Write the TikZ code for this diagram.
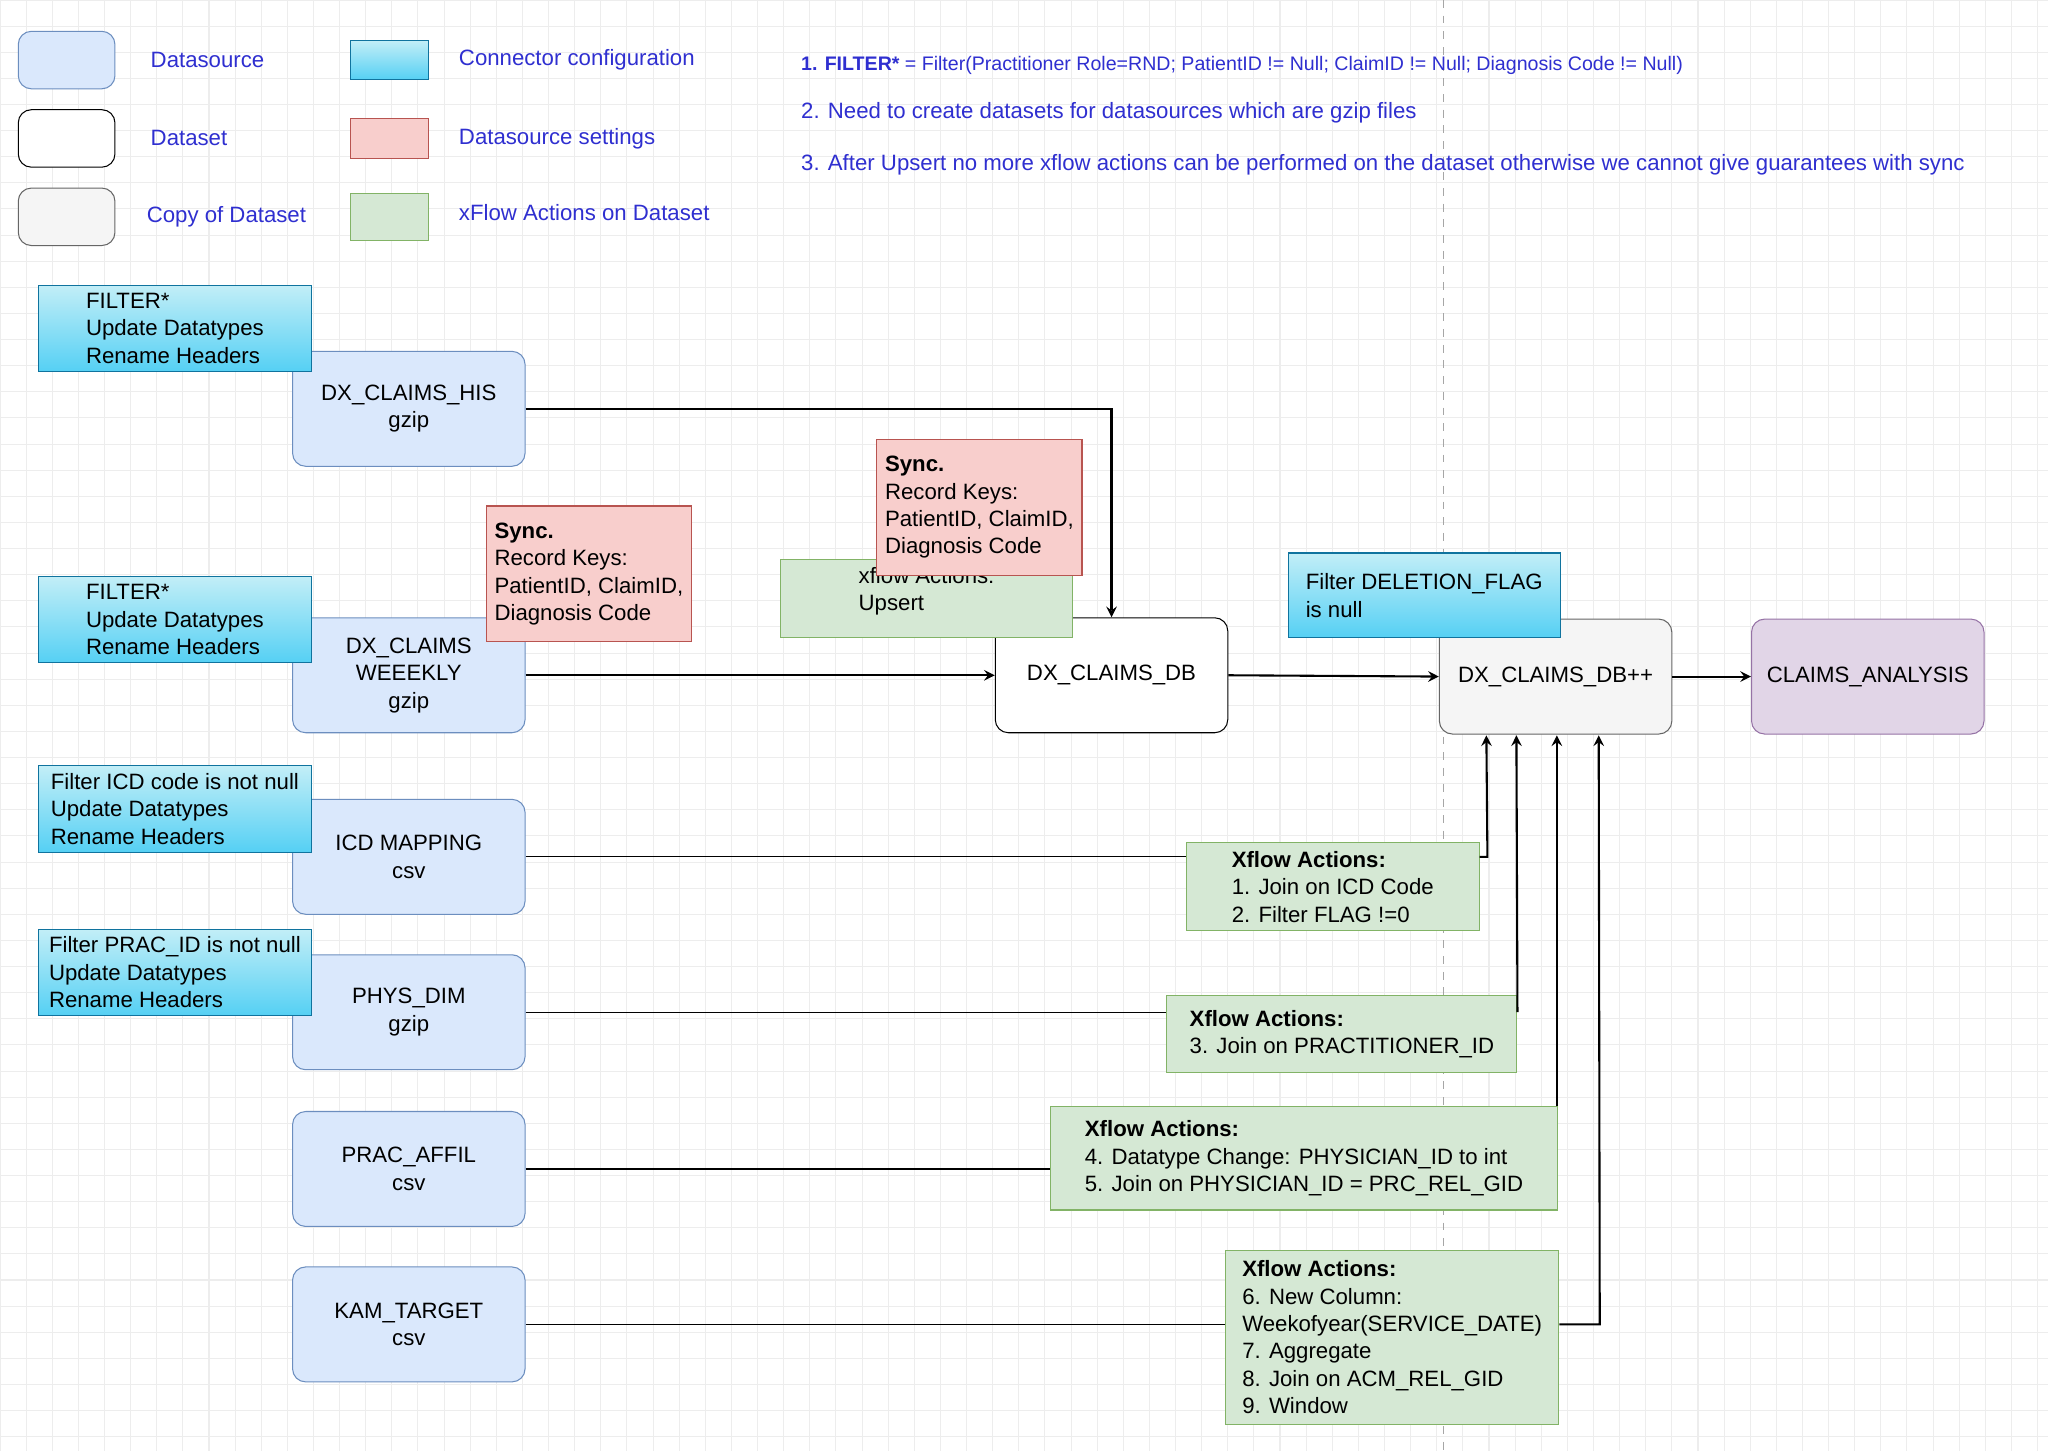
\documentclass[tikz,border=0pt]{standalone}
\usepackage{fontspec}
\setmainfont{Liberation Sans}
\usepackage{tikz}
\usetikzlibrary{positioning}
\definecolor{dsfill}{HTML}{DAE8FC}\definecolor{dsline}{HTML}{6C8EBF}
\definecolor{cpfill}{HTML}{F5F5F5}\definecolor{cpline}{HTML}{666666}
\definecolor{rdfill}{HTML}{F8CECC}\definecolor{rdline}{HTML}{B85450}
\definecolor{grfill}{HTML}{D5E8D4}\definecolor{grline}{HTML}{82B366}
\definecolor{pufill}{HTML}{E1D5E7}\definecolor{puline}{HTML}{9673A6}
\definecolor{cytop}{HTML}{C2EEF7}\definecolor{cybot}{HTML}{55D0F4}\definecolor{cyline}{HTML}{10739E}
\definecolor{note}{HTML}{2F2FD0}
\tikzset{
  base/.style={font=\fontsize{8.5}{10.5}\selectfont, inner sep=1.5pt},
  src/.style={base, draw=dsline, fill=dsfill, rounded corners=5pt, align=center, minimum width=89pt, minimum height=44pt},
  dset/.style={base, draw=black, fill=white, rounded corners=5pt, align=center, minimum width=89pt, minimum height=44pt},
  cpy/.style={base, draw=cpline, fill=cpfill, rounded corners=5pt, align=center, minimum width=89pt, minimum height=44pt},
  ana/.style={base, draw=puline, fill=pufill, rounded corners=5pt, align=center, minimum width=89pt, minimum height=44pt},
  conn/.style={base, draw=cyline, top color=cytop, bottom color=cybot, align=left, anchor=north west},
  sync/.style={base, draw=rdline, fill=rdfill, align=left, anchor=north west},
  act/.style={base, draw=grline, fill=grfill, align=left, anchor=north west},
  lbl/.style={base, anchor=west, text=note},
  arr/.style={-stealth, thick}
}
\begin{document}
\begin{tikzpicture}[x=0.5pt,y=-0.5pt]
\useasboundingbox (0,0) rectangle (1568,1111);
\fill[white] (0,0) rectangle (1568,1111);
\draw[black!7, step=10pt] (0,0) grid (1568,1111);
\draw[black!35, dashed] (1105,0) -- (1105,1111);

% legend
\node[src, minimum width=37pt, minimum height=22pt] (lgds) at (51,46) {};
\node[dset, minimum width=37pt, minimum height=22pt] (lgset) at (51,106) {};
\node[cpy, minimum width=37pt, minimum height=22pt] (lgcp) at (51,166) {};
\node[base, draw=cyline, top color=cytop, bottom color=cybot, minimum width=30pt, minimum height=15pt] (lgconn) at (298,46) {};
\node[base, draw=rdline, fill=rdfill, minimum width=30pt, minimum height=15pt] (lgsync) at (298,106) {};
\node[base, draw=grline, fill=grfill, minimum width=30pt, minimum height=18pt] (lgact) at (298,166) {};
\node[lbl] at (112,46) {Datasource};
\node[lbl] at (112,106) {Dataset};
\node[lbl] at (109,166) {Copy of Dataset};
\node[lbl] at (348,46) {Connector configuration};
\node[lbl] at (348,106) {Datasource settings};
\node[lbl] at (348,163) {xFlow Actions on Dataset};

% notes
\node[lbl, font=\fontsize{7.5}{9}\selectfont] at (610,50) {\textbf{1. FILTER*} = Filter(Practitioner Role=RND; PatientID != Null; ClaimID != Null; Diagnosis Code != Null)};
\node[lbl] at (610,86) {2. Need to create datasets for datasources which are gzip files};
\node[lbl] at (610,126) {3. After Upsert no more xflow actions can be performed on the dataset otherwise we cannot give guarantees with sync};

% datasources
\node[src] (his) at (313,313) {DX\_CLAIMS\_HIS\\gzip};
\node[src] (wk) at (313,517) {DX\_CLAIMS\\WEEEKLY\\gzip};
\node[src] (icd) at (313,656) {ICD MAPPING\\csv};
\node[src] (phys) at (313,775) {PHYS\_DIM\\gzip};
\node[src] (prac) at (313,895) {PRAC\_AFFIL\\csv};
\node[src] (kam) at (313,1014) {KAM\_TARGET\\csv};

% connector configs
\node[conn, minimum width=104.5pt, minimum height=33pt] (c1) at (29,218) {FILTER*\\Update Datatypes\\Rename Headers};
\node[conn, minimum width=104.5pt, minimum height=33pt] (c2) at (29,441) {FILTER*\\Update Datatypes\\Rename Headers};
\node[conn, minimum width=104.5pt, minimum height=33pt] (c3) at (29,586) {Filter ICD code is not null\\Update Datatypes\\Rename Headers};
\node[conn, minimum width=104.5pt, minimum height=33pt] (c4) at (29,711) {Filter PRAC\_ID is not null\\Update Datatypes\\Rename Headers};

% datasets
\node[dset] (db) at (851,517) {DX\_CLAIMS\_DB};
\node[cpy] (dbpp) at (1191,518) {DX\_CLAIMS\_DB++};
\node[ana] (ca) at (1430,518) {CLAIMS\_ANALYSIS};

% settings and actions
\node[act, minimum width=112pt, minimum height=30pt] (ups) at (597,428) {xflow Actions:\\Upsert\\[-3pt]};
\node[sync, minimum width=78.5pt, minimum height=52pt] (s1) at (372,387) {\textbf{Sync.}\\Record Keys:\\PatientID, ClaimID,\\Diagnosis Code};
\node[sync, minimum width=78.5pt, minimum height=52pt] (s2) at (671,336) {\textbf{Sync.}\\Record Keys:\\PatientID, ClaimID,\\Diagnosis Code};
\node[conn, minimum width=104pt, minimum height=32.5pt] (del) at (986,423) {Filter DELETION\_FLAG\\is null};
\node[act, minimum width=112pt, minimum height=33.5pt] (a1) at (908,645) {\textbf{Xflow Actions:}\\1. Join on ICD Code\\2. Filter FLAG !=0};
\node[act, minimum width=134pt, minimum height=29.5pt] (a2) at (893,762) {\textbf{Xflow Actions:}\\3. Join on PRACTITIONER\_ID};
\node[act, minimum width=194pt, minimum height=39.5pt] (a3) at (804,847) {\textbf{Xflow Actions:}\\4. Datatype Change: PHYSICIAN\_ID to int\\5. Join on PHYSICIAN\_ID = PRC\_REL\_GID};
\node[act, minimum width=127.5pt, minimum height=66.5pt] (a4) at (938,957) {\textbf{Xflow Actions:}\\6. New Column:\\Weekofyear(SERVICE\_DATE)\\7. Aggregate\\8. Join on ACM\_REL\_GID\\9. Window};

% connectors
\draw[arr] (his.east) -| (db.north);
\draw[arr] (wk.east) -- (db.west);
\draw[arr] (db.east) -- (dbpp.west);
\draw[arr] (dbpp.east) -- (ca.west);
\draw (icd.east) -- (icd.east -| a1.west);
\draw[arr] (a1.east |- icd.east) -- ++(6,0) -- (1138,563);
\draw (phys.east) -- (phys.east -| a2.west);
\draw[arr] (a2.east |- phys.east) -- (1161,563);
\draw (prac.east) -- (prac.east -| a3.west);
\draw[arr] (1192,847) -- (1192,563);
\draw (kam.east) -- (kam.east -| a4.west);
\draw[arr] (a4.east |- kam.east) -- ++(31,0) -- (1224,563);
\end{tikzpicture}
\end{document}
